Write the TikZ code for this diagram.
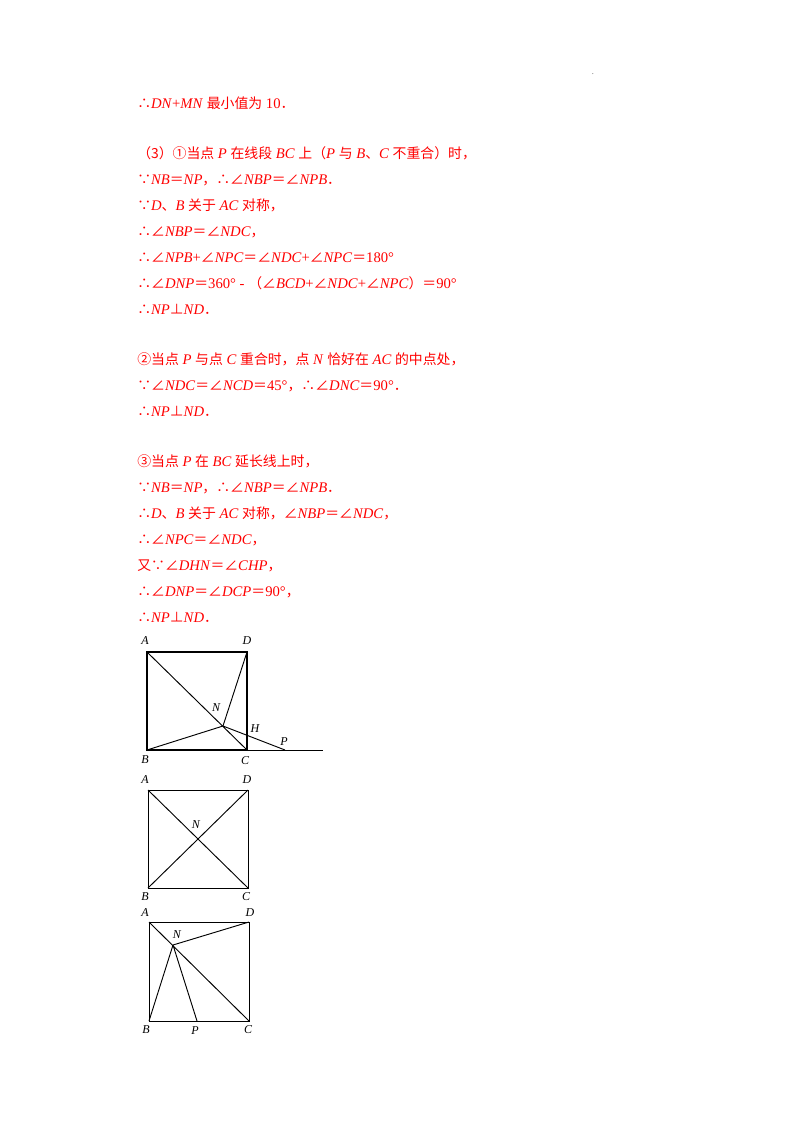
\documentclass[tikz,border=0pt]{standalone}
\usepackage{fontspec}
\setmainfont{Liberation Serif}
\newfontfamily\cjk{Noto Sans CJK SC}
\newcommand{\zh}[1]{{\cjk\fontsize{10.4}{12}\selectfont #1}}
\newcommand{\ang}{\zh{∠}}
\newcommand{\eq}{\zh{＝}}
\newcommand{\pd}{\zh{．}}
\begin{document}
\begin{tikzpicture}[x=0.75pt,y=-0.75pt,
    line/.style={anchor=base west, inner sep=0pt, text=red, font=\fontsize{11}{12}\selectfont},
    pt/.style={inner sep=1pt, font=\fontsize{9}{10}\selectfont\itshape},
    edge/.style={line width=0.7pt}]
    \useasboundingbox (0,0) rectangle (800,1132);
    \node[inner sep=0pt, font=\tiny] (dot) at (593,74) {.};

    % text
    \node[line] (l1) at (137,108) {\zh{∴}\textit{DN}+\textit{MN} \zh{最小值为} 10\pd};
    \node[line] (l2) at (137,158) {\zh{（3）①当点} \textit{P} \zh{在线段} \textit{BC} \zh{上（}\textit{P} \zh{与} \textit{B}\zh{、}\textit{C} \zh{不重合）时，}};
    \node[line] (l3) at (137,184) {\zh{∵}\textit{NB}\eq\textit{NP}\zh{，∴}\ang\textit{NBP}\eq\ang\textit{NPB}\pd};
    \node[line] (l4) at (137,210) {\zh{∵}\textit{D}\zh{、}\textit{B} \zh{关于} \textit{AC} \zh{对称，}};
    \node[line] (l5) at (137,236) {\zh{∴}\ang\textit{NBP}\eq\ang\textit{NDC}\zh{，}};
    \node[line] (l6) at (137,262) {\zh{∴}\ang\textit{NPB}+\ang\textit{NPC}\eq\ang\textit{NDC}+\ang\textit{NPC}\eq180°};
    \node[line] (l7) at (137,288) {\zh{∴}\ang\textit{DNP}\eq360° - \zh{（}\ang\textit{BCD}+\ang\textit{NDC}+\ang\textit{NPC}\zh{）}\eq90°};
    \node[line] (l8) at (137,314) {\zh{∴}\textit{NP}\zh{⊥}\textit{ND}\pd};
    \node[line] (l9) at (137,364) {\zh{②当点} \textit{P} \zh{与点} \textit{C} \zh{重合时，点} \textit{N} \zh{恰好在} \textit{AC} \zh{的中点处，}};
    \node[line] (l10) at (137,390) {\zh{∵}\ang\textit{NDC}\eq\ang\textit{NCD}\eq45°\zh{，∴}\ang\textit{DNC}\eq90°\pd};
    \node[line] (l11) at (137,416) {\zh{∴}\textit{NP}\zh{⊥}\textit{ND}\pd};
    \node[line] (l12) at (137,466) {\zh{③当点} \textit{P} \zh{在} \textit{BC} \zh{延长线上时，}};
    \node[line] (l13) at (137,492) {\zh{∵}\textit{NB}\eq\textit{NP}\zh{，∴}\ang\textit{NBP}\eq\ang\textit{NPB}\pd};
    \node[line] (l14) at (137,518) {\zh{∴}\textit{D}\zh{、}\textit{B} \zh{关于} \textit{AC} \zh{对称，}\ang\textit{NBP}\eq\ang\textit{NDC}\zh{，}};
    \node[line] (l15) at (137,544) {\zh{∴}\ang\textit{NPC}\eq\ang\textit{NDC}\zh{，}};
    \node[line] (l16) at (137,570) {\zh{又∵}\ang\textit{DHN}\eq\ang\textit{CHP}\zh{，}};
    \node[line] (l17) at (137,596) {\zh{∴}\ang\textit{DNP}\eq\ang\textit{DCP}\eq90°\zh{，}};
    \node[line] (l18) at (137,622) {\zh{∴}\textit{NP}\zh{⊥}\textit{ND}\pd};

    % figure 1
    \coordinate (A1) at (147,652); \coordinate (D1) at (247,652);
    \coordinate (B1) at (147,750); \coordinate (C1) at (247,750);
    \coordinate (N1) at (223,726); \coordinate (P1) at (285,750);
    \coordinate (E1) at (323,750); \coordinate (H1) at (247,733);
    \draw[line width=1pt] (A1) -- (D1) -- (C1) -- (B1) -- cycle;
    \draw[edge] (A1) -- (C1) (D1) -- (N1) -- (B1) (N1) -- (P1);
    \draw[edge] (C1) -- (E1);
    \node[pt] (a1) at (145,641) {A}; \node[pt] (d1) at (247,641) {D};
    \node[pt] (b1) at (145,760) {B}; \node[pt] (c1) at (245,761) {C};
    \node[pt] (n1) at (216,708) {N}; \node[pt] (h1) at (255,729) {H};
    \node[pt] (p1) at (284,742) {P};

    % figure 2
    \coordinate (A2) at (148,790); \coordinate (D2) at (248,790);
    \coordinate (B2) at (148,888); \coordinate (C2) at (248,888);
    \draw[edge] (A2) -- (D2) -- (C2) -- (B2) -- cycle;
    \draw[edge] (A2) -- (C2) (B2) -- (D2);
    \node[pt] (a2) at (145,780) {A}; \node[pt] (d2) at (247,780) {D};
    \node[pt] (b2) at (145,897) {B}; \node[pt] (c2) at (246,897) {C};
    \node[pt] (n2) at (196,825) {N};

    % figure 3
    \coordinate (A3) at (149,922); \coordinate (D3) at (249,922);
    \coordinate (B3) at (149,1021); \coordinate (C3) at (249,1021);
    \coordinate (N3) at (173,945); \coordinate (P3) at (197,1021);
    \draw[edge] (A3) -- (D3) -- (C3) -- (B3) -- cycle;
    \draw[edge] (A3) -- (C3) (D3) -- (N3) -- (B3) (N3) -- (P3);
    \node[pt] (a3) at (145,913) {A}; \node[pt] (d3) at (250,913) {D};
    \node[pt] (b3) at (146,1030) {B}; \node[pt] (p3) at (195,1031) {P};
    \node[pt] (c3) at (248,1030) {C}; \node[pt] (n3) at (177,935) {N};
\end{tikzpicture}
\end{document}
